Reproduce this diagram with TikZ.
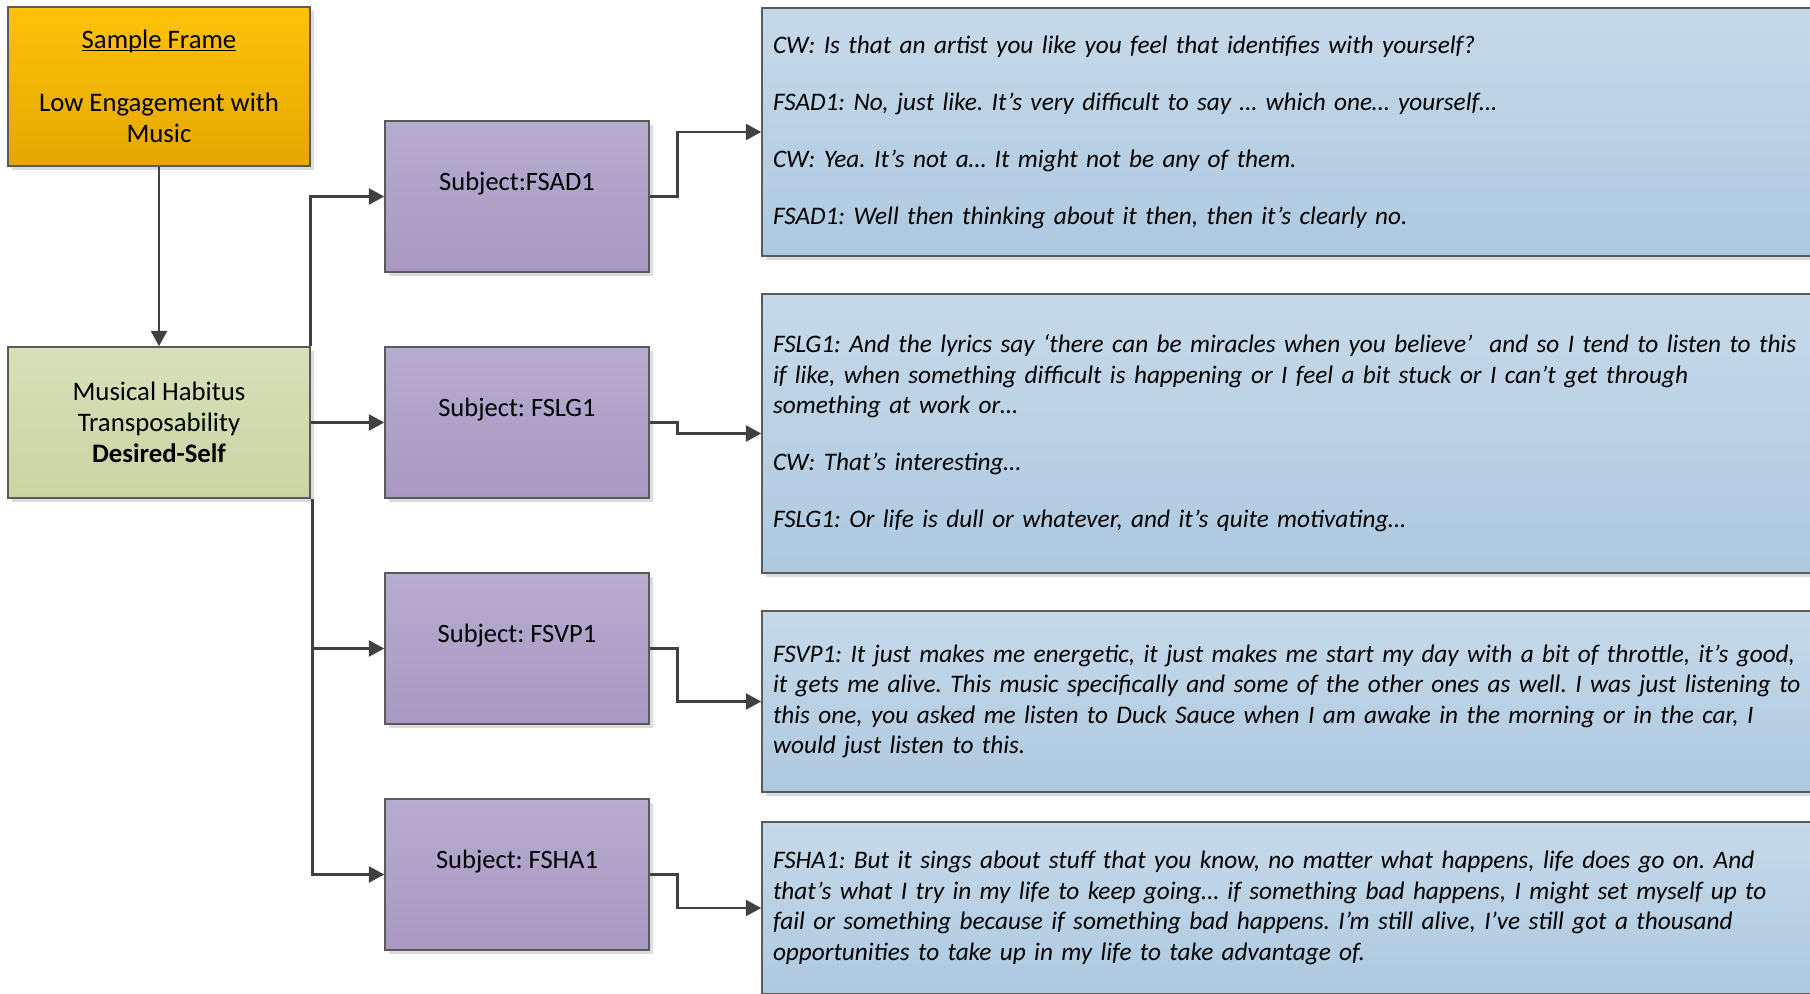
\documentclass[tikz,border=0pt]{standalone}
\usepackage{fontspec}
\setmainfont{Carlito}
\usetikzlibrary{arrows.meta,shadings,shadows,calc}
\frenchspacing

\definecolor{frameTop}{HTML}{FFC20A}
\definecolor{frameBot}{HTML}{E3A800}
\definecolor{habTop}{HTML}{D8E0BA}
\definecolor{habBot}{HTML}{C9D4A2}
\definecolor{subjTop}{HTML}{B7ACCF}
\definecolor{subjBot}{HTML}{A898C2}
\definecolor{quoteTop}{HTML}{C6D9E9}
\definecolor{quoteBot}{HTML}{ADC9E0}
\definecolor{edge}{HTML}{5A5A5A}
\definecolor{wire}{HTML}{404040}
\definecolor{shade}{HTML}{DCDCDC}

% underline sitting close to the baseline
\newcommand{\ulbase}[1]{\setbox0\hbox{#1}\rlap{\rule[-1.1pt]{\wd0}{0.5pt}}\box0}

\tikzset{
  box/.style={draw=edge, line width=0.6pt, inner sep=0pt, align=center,
    drop shadow={shadow xshift=1.6pt, shadow yshift=-1.6pt, fill=shade, opacity=1},
    font=\fontsize{10.7}{12.3}\selectfont},
  framebox/.style={box, top color=frameTop, bottom color=frameBot,
    minimum width=302*0.4pt, minimum height=159*0.4pt},
  habbox/.style={box, top color=habTop, bottom color=habBot,
    minimum width=302*0.4pt, minimum height=151*0.4pt},
  subjbox/.style={box, top color=subjTop, bottom color=subjBot,
    minimum width=264*0.4pt, minimum height=151*0.4pt,
    font=\fontsize{10.6}{12.3}\selectfont},
  quotebox/.style={box, top color=quoteTop, bottom color=quoteBot,
    text width=1046*0.4pt, inner xsep=11*0.4pt, align=left,
    font=\fontsize{10.1}{12.2}\selectfont\itshape},
  link/.style={draw=wire, line width=1.1pt,
    -{Triangle[length=6.2pt, width=6.4pt]}},
}

\newcommand{\pgap}{\\[10.6pt]}

\begin{document}
\begin{tikzpicture}[x=0.4pt, y=-0.4pt]
  \useasboundingbox (0,0) rectangle (1810,993);

  % left column
  \node[framebox] (frame) at (159,86.5)
    {\ulbase{Sample Frame}\\[13pt]Low Engagement with\\Music};
  \node[habbox] (habitus) at (159,422.5)
    {Musical Habitus\\Transposability\\\textbf{Desired-Self}};

  % subjects
  \node[subjbox] (s1) at (517,196.5) {Subject:FSAD1\\\mbox{}};
  \node[subjbox] (s2) at (517,422.5) {Subject: FSLG1\\\mbox{}};
  \node[subjbox] (s3) at (517,648.5) {Subject: FSVP1\\\mbox{}};
  \node[subjbox] (s4) at (517,874.5) {Subject: FSHA1\\\mbox{}};

  % interview excerpts
  \node[quotebox, minimum height=248*0.4pt] (q1) at (1296,132) {%
    CW: Is that an artist you like you feel that identifies with yourself?\pgap
    FSAD1: No, just like. It’s very difficult to say … which one… yourself…\pgap
    CW: Yea. It’s not a… It might not be any of them.\pgap
    FSAD1: Well then thinking about it then, then it’s clearly no.};
  \node[quotebox, minimum height=279*0.4pt] (q2) at (1296,433.5) {%
    FSLG1: And the lyrics say ‘there can be miracles when you believe’\ \ and so I tend to listen to this\\
    if like, when something difficult is happening or I feel a bit stuck or I can’t get through\\
    something at work or…\pgap
    CW: That’s interesting…\pgap
    FSLG1: Or life is dull or whatever, and it’s quite motivating…};
  \node[quotebox, minimum height=181*0.4pt] (q3) at (1296,701.5) {%
    FSVP1: It just makes me energetic, it just makes me start my day with a bit of throttle, it’s good,\\
    it gets me alive. This music specifically and some of the other ones as well. I was just listening to\\
    this one, you asked me listen to Duck Sauce when I am awake in the morning or in the car, I\\
    would just listen to this.};
  \node[quotebox, minimum height=172*0.4pt] (q4) at (1296,908) {%
    FSHA1: But it sings about stuff that you know, no matter what happens, life does go on. And\\
    that’s what I try in my life to keep going… if something bad happens, I might set myself up to\\
    fail or something because if something bad happens. I’m still alive, I’ve still got a thousand\\
    opportunities to take up in my life to take advantage of.};

  % connectors
  \draw[link] (frame.south) -- (habitus.north);
  \draw[link] (habitus.north east) |- (s1.west);
  \draw[link] (habitus.east) -- (s2.west);
  \draw[link] ([xshift=0.8pt]habitus.south east) |- (s3.west);
  \draw[link] ([xshift=0.8pt]habitus.south east) |- (s4.west);

  \draw[link] (s1.east) -- ++(28,0) |- (q1.west);
  \draw[link] (s2.east) -- ++(28,0) |- (q2.west);
  \draw[link] (s3.east) -- ++(28,0) |- (q3.west);
  \draw[link] (s4.east) -- ++(28,0) |- (q4.west);
\end{tikzpicture}
\end{document}
